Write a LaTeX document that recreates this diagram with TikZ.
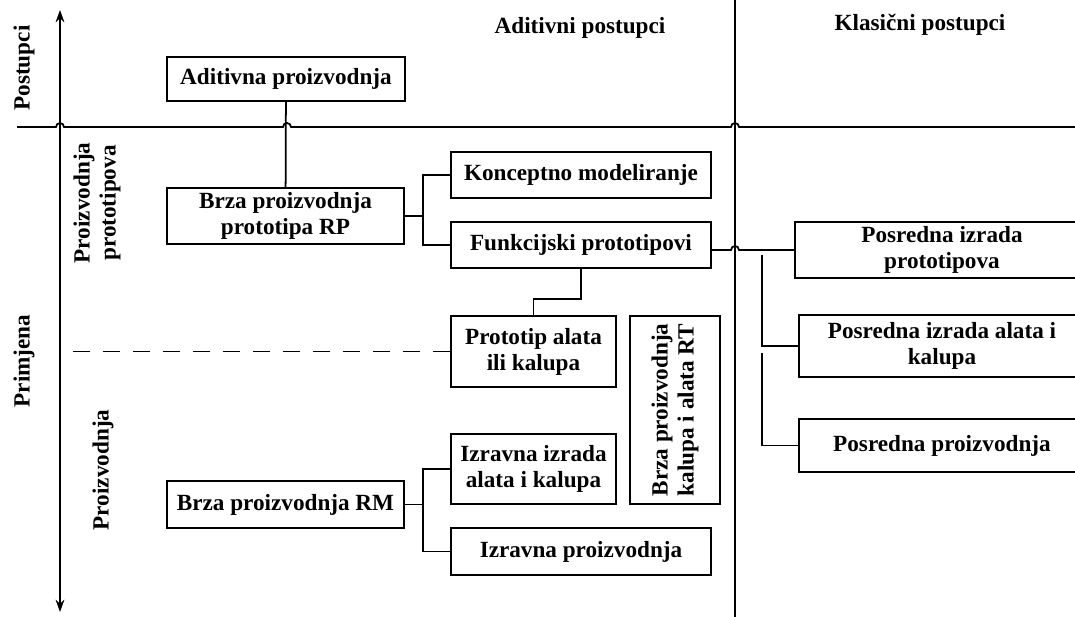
\documentclass[tikz,border=0pt]{standalone}
\usepackage{fontspec}
\setmainfont{Liberation Serif}
\usetikzlibrary{arrows.meta}

\begin{document}
\begin{tikzpicture}[x=0.02cm,y=-0.02cm,>={Stealth[length=7pt,width=5pt]},line width=1pt,
  font=\fontsize{13.2}{14.8}\selectfont\bfseries,
  box node/.style={draw,align=center,inner sep=2pt},
  side label/.style={rotate=90,align=center,inner sep=0pt},
  hop/.style={insert path={arc[start angle=180,end angle=0,radius=0.08cm]}}]

  \useasboundingbox (0,0) rectangle (1075,617);
  \clip (0,0) rectangle (1075,617);

  \node[box node,minimum width=4.76cm,minimum height=0.88cm] (ap) at (286,79) {Aditivna proizvodnja};
  \node[box node,minimum width=4.74cm,minimum height=1.12cm] (rp) at (285.5,216) {Brza proizvodnja\\prototipa RP};
  \node[box node,minimum width=5.2cm,minimum height=0.92cm] (kon) at (581,175) {Konceptno modeliranje};
  \node[box node,minimum width=5.2cm,minimum height=0.92cm] (fun) at (581,245) {Funkcijski prototipovi};
  \node[box node,minimum width=3.3cm,minimum height=1.42cm] (pt) at (533.5,351.5) {Prototip alata\\ili kalupa};
  \node[box node,rotate=90,minimum width=3.76cm,minimum height=1.8cm] (rt) at (675,410) {Brza proizvodnja\\kalupa i alata RT};
  \node[box node,minimum width=3.3cm,minimum height=1.4cm] (iia) at (533.5,469) {Izravna izrada\\alata i kalupa};
  \node[box node,minimum width=5.2cm,minimum height=0.94cm] (ip) at (581,551.5) {Izravna proizvodnja};
  \node[box node,minimum width=4.74cm,minimum height=0.94cm] (rm) at (285.5,504.5) {Brza proizvodnja RM};
  \node[box node,minimum width=5.88cm,minimum height=1.12cm] (pp) at (942,250) {Posredna izrada\\prototipova};
  \node[box node,minimum width=5.72cm,minimum height=1.24cm] (pa) at (942,346) {Posredna izrada alata i\\kalupa};
  \node[box node,minimum width=5.72cm,minimum height=1.06cm] (pd) at (942,445.5) {Posredna proizvodnja};

  \node (adit) at (580,28) {Aditivni postupci};
  \node (klas) at (920,25) {Klasični postupci};
  \node[side label] (post) at (24,68) {Postupci};
  \node[side label] (prim) at (24,361) {Primjena};
  \node[side label] (proto) at (97,203) {Proizvodnja\\prototipova};
  \node[side label] (proiz) at (103,470) {Proizvodnja};

  \coordinate (axtop) at (60,10);
  \coordinate (axbot) at (60,612);
  \coordinate (sep) at (735,0);
  \coordinate (r1) at (762,255);
  \coordinate (r2) at (762,353);

  \draw[<->] (axtop) -- (axbot);
  \draw (sep) -- (735,617);
  \draw (17,127) -- (56,127) [hop] -- (283,127) [hop] -- (731,127) [hop] -- (1075,127);

  \draw (ap) -- (rp);
  \draw (rp.east) -- ++(18,0) |- (kon.west);
  \draw (rp.east) ++(18,0) |- (fun.west);
  \draw (fun.south) -- ++(0,30) -| (pt.north);
  \draw (fun.east |- pp.west) -- ([xshift=-0.08cm]pp.west -| sep) [hop] -- (pp.west);
  \draw[dashed,dash pattern=on 0.34cm off 0.26cm] (pt.west) -- (axtop |- pt.west);
  \draw (rm.east) -- ++(18,0) |- (iia.west);
  \draw (rm.east) ++(18,0) |- (ip.west);
  \draw (r1) |- (pa.west);
  \draw (r2) |- (pd.west);
\end{tikzpicture}
\end{document}
